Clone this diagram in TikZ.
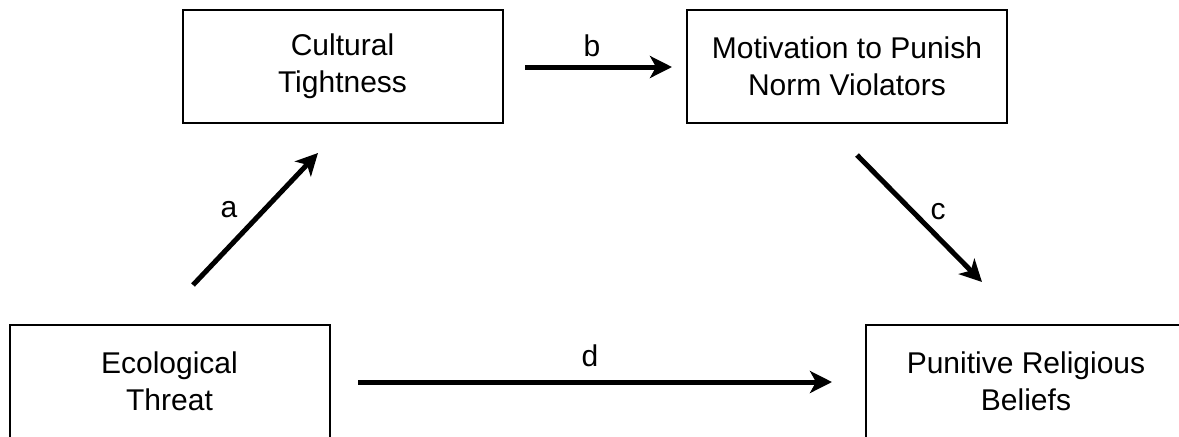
\documentclass[tikz,border=0pt]{standalone}
\usepackage{fontspec}
\setmainfont{Liberation Sans}
\usetikzlibrary{arrows.meta}

\begin{document}
\begin{tikzpicture}[x=0.5pt, y=-0.5pt,
    every node/.style={font=\fontsize{15}{18.3}\selectfont},
    box/.style={draw, line width=1pt, minimum width=160pt, minimum height=56.5pt, align=center, inner sep=0pt},
    path arrow/.style={line width=2.5pt, -{Stealth[length=11pt, width=11pt, inset=3pt]}}]

% Frame of the picture (boxes run off the edge)
\clip (0,0) rectangle (1179,436);

% Boxes
\node [box] (tight) at (342.5, 66.5) {Cultural\\Tightness};
\node [box] (motiv) at (847, 66.5) {Motivation to Punish\\Norm Violators};
\node [box] (threat) at (169.5, 381.5) {Ecological\\Threat};
\node [box] (belief) at (1026, 381.5) {Punitive Religious\\Beliefs};

% End points of the paths
\coordinate (a-from) at (193, 285);
\coordinate (a-to) at (318, 153);
\coordinate (b-from) at (525, 67);
\coordinate (b-to) at (672, 67);
\coordinate (c-from) at (857, 155);
\coordinate (c-to) at (982, 282);
\coordinate (d-from) at (358, 382);
\coordinate (d-to) at (832, 382);

% Paths
\draw [path arrow] (a-from) to (a-to);
    \node (la) at (229, 210) {a};
\draw [path arrow] (b-from) to (b-to);
    \node (lb) at (592, 46) {b};
\draw [path arrow] (c-from) to (c-to);
    \node (lc) at (938, 212) {c};
\draw [path arrow] (d-from) to (d-to);
    \node (ld) at (590, 356) {d};

\end{tikzpicture}
\end{document}
